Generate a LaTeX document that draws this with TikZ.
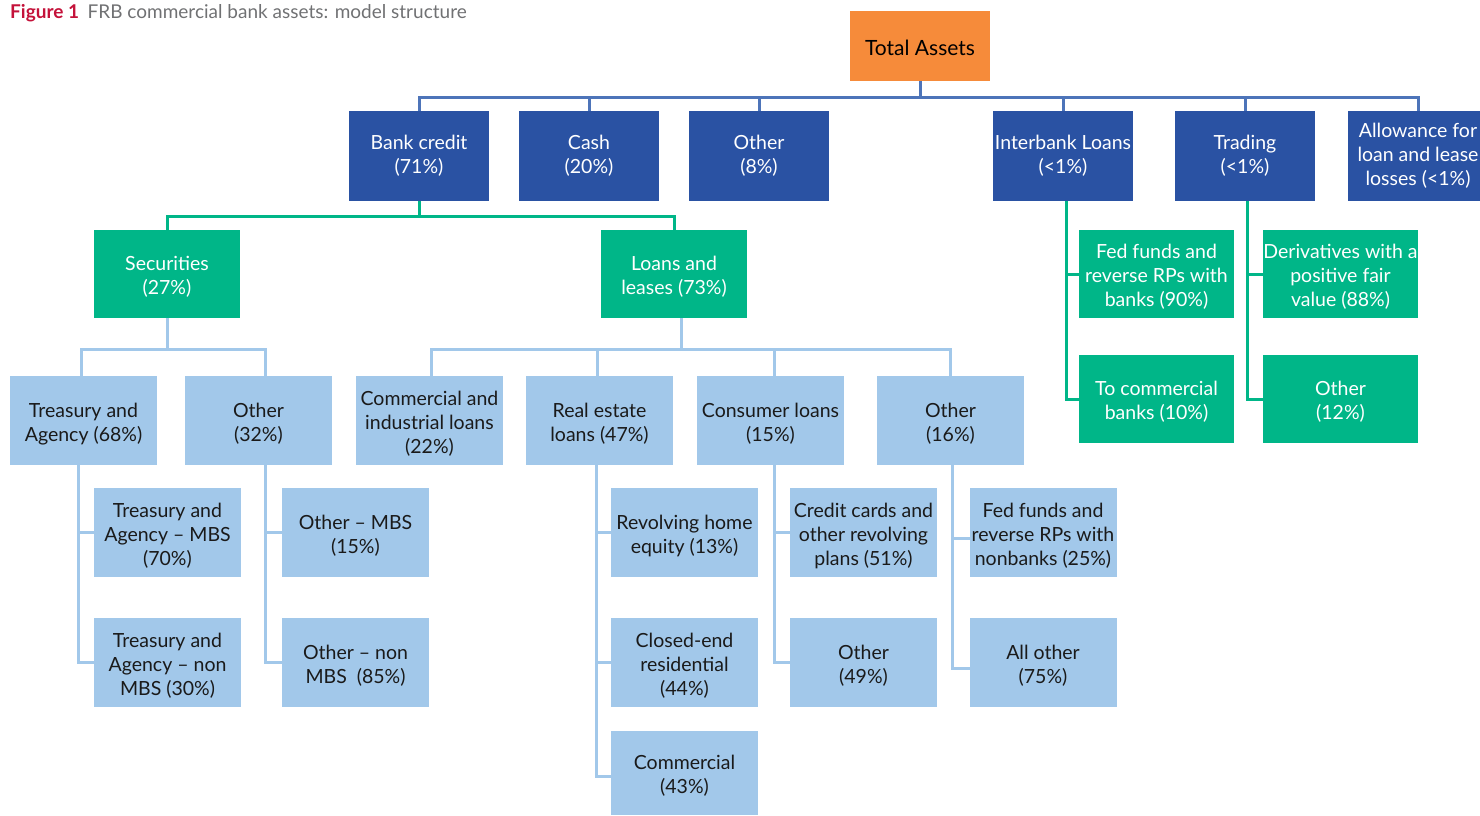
\documentclass[tikz,border=0pt]{standalone}
\usepackage{fontspec}
\setmainfont{Lato}
\definecolor{figred}{HTML}{C4123A}
\definecolor{titlegrey}{HTML}{707173}
\definecolor{topfill}{HTML}{F68B3A}
\definecolor{darkfill}{HTML}{2A52A3}
\definecolor{greenfill}{HTML}{00B688}
\definecolor{lightfill}{HTML}{A2C8EA}
\definecolor{topwire}{HTML}{4D74B9}
\definecolor{inkdark}{HTML}{1A1A1A}
% label set as a one-column table; the first row gets a strut of height
% \labstrut, so a taller strut lowers the label inside its box
\newcommand\labstrut{16.8pt}
\newcommand\lab[1]{\begin{tabular}{@{}c@{}}\rule{0pt}{\labstrut}#1\end{tabular}}
\tikzset{
  box/.style={draw=none, inner sep=0pt, outer sep=0pt,
    minimum width=140pt, minimum height=90pt,
    font=\fontsize{19.5}{24}\selectfont},
  strut/.style={execute at begin node={\renewcommand\labstrut{#1}}},
  rootbox/.style={box, fill=topfill, text=black, minimum height=70pt,
    font=\fontsize{21}{25}\selectfont, strut=25.5pt},
  darkbox/.style={box, fill=darkfill, text=white, strut=18.8pt},
  greenbox/.style={box, fill=greenfill, text=white, minimum width=146pt,
    minimum height=88pt, strut=24.8pt},
  sidebox/.style={box, fill=greenfill, text=white, minimum width=155pt,
    minimum height=88pt, strut=24.8pt},
  lightbox/.style={box, fill=lightfill, text=inkdark, minimum width=147pt,
    minimum height=89pt, strut=24.8pt},
  wire/.style={line width=3pt},
  bluewire/.style={wire, draw=topwire},
  greenwire/.style={wire, draw=greenfill},
  lightwire/.style={wire, draw=lightfill},
}
\begin{document}
\begin{tikzpicture}[x=1pt, y=-1pt]
\useasboundingbox (0,0) rectangle (1480,815);
\clip (0,0) rectangle (1480,815);

% heading
\node[anchor=base west, inner sep=0pt, font=\fontsize{19}{22}\selectfont] (title) at (10,18)
  {\textcolor{figred}{\bfseries Figure 1}\hspace{0.45em}\textcolor{titlegrey}{FRB commercial bank assets: model structure}};

% root
\node[rootbox] (total) at (920,46) {\lab{Total Assets}};

% first level
\node[darkbox] (bank)  at (419,156)  {\lab{Bank credit\\(71\%)}};
\node[darkbox] (cash)  at (589,156)  {\lab{Cash\\(20\%)}};
\node[darkbox] (oth1)  at (759,156)  {\lab{Other\\(8\%)}};
\node[darkbox] (inter) at (1063,156) {\lab{Interbank Loans\\(<1\%)}};
\node[darkbox] (trade) at (1245,156) {\lab{Trading\\(<1\%)}};
\node[darkbox] (allow) at (1418,156) {\lab{Allowance for\\loan and lease\\losses (<1\%)}};

% bank credit split
\node[greenbox] (sec)   at (167,274) {\lab{Securities\\(27\%)}};
\node[greenbox] (loans) at (674,274) {\lab{Loans and\\leases (73\%)}};

% interbank and trading split
\node[sidebox] (fedb)  at (1156.5,274) {\lab{Fed funds and\\reverse RPs with\\banks (90\%)}};
\node[sidebox] (tocb)  at (1156.5,399) {\lab{To commercial\\banks (10\%)}};
\node[sidebox] (deriv) at (1340.5,274) {\lab{Derivatives with a\\positive fair\\value (88\%)}};
\node[sidebox] (toth)  at (1340.5,399) {\lab{Other\\(12\%)}};

% second level
\node[lightbox] (tsy)   at (83.5,420.5)  {\lab{Treasury and\\Agency (68\%)}};
\node[lightbox] (soth)  at (258.5,420.5) {\lab{Other\\(32\%)}};
\node[lightbox] (cni)   at (429.5,420.5) {\lab{Commercial and\\industrial loans\\(22\%)}};
\node[lightbox] (reast) at (599.5,420.5) {\lab{Real estate\\loans (47\%)}};
\node[lightbox] (cons)  at (770.5,420.5) {\lab{Consumer loans\\(15\%)}};
\node[lightbox] (loth)  at (950.5,420.5) {\lab{Other\\(16\%)}};

% third level
\node[lightbox] (tsym)  at (167.5,532.5) {\lab{Treasury and\\Agency – MBS\\(70\%)}};
\node[lightbox] (tsyn)  at (167.5,662.5) {\lab{Treasury and\\Agency – non\\MBS (30\%)}};
\node[lightbox] (sothm) at (355.5,532.5) {\lab{Other – MBS\\(15\%)}};
\node[lightbox] (sothn) at (355.5,662.5) {\lab{Other – non\\MBS\ \ (85\%)}};
\node[lightbox] (rhe)   at (684.5,532.5) {\lab{Revolving home\\equity (13\%)}};
\node[lightbox] (cer)   at (684.5,662.5) {\lab{Closed-end\\residential\\(44\%)}};
\node[lightbox, minimum height=84pt] (comm) at (684.5,773) {\lab{Commercial\\(43\%)}};
\node[lightbox] (ccard) at (863.5,532.5) {\lab{Credit cards and\\other revolving\\plans (51\%)}};
\node[lightbox] (coth)  at (863.5,662.5) {\lab{Other\\(49\%)}};
\node[lightbox] (fednb) at (1043,532.5)  {\lab{Fed funds and\\reverse RPs with\\nonbanks (25\%)}};
\node[lightbox] (allo)  at (1043,662.5)  {\lab{All other\\(75\%)}};

% root bus
\coordinate (tbus) at (920,97);
\draw[bluewire] (total.south) -- (tbus);
\draw[bluewire] (bank.north) |- (tbus -| allow.north) -- (allow.north);
\foreach \n in {cash, oth1, inter, trade}
  \draw[bluewire] (\n.north) -- (\n.north |- tbus);

% bank credit bus
\coordinate (gbus) at (419,216);
\draw[greenwire] (bank.south) -- (gbus);
\draw[greenwire] (sec.north) |- (gbus -| loans.north) -- (loans.north);

% interbank and trading branches
\draw[greenwire] ([xshift=3pt]inter.south) |- (tocb.west);
\draw[greenwire] ([xshift=3pt]inter.south) |- (fedb.west);
\draw[greenwire] ([xshift=2pt]trade.south) |- (toth.west);
\draw[greenwire] ([xshift=2pt]trade.south) |- (deriv.west);

% securities bus
\coordinate (sbus) at (167,349);
\coordinate (tsytop) at ([xshift=-2.5pt]tsy.north);
\coordinate (sothtop) at ([xshift=7pt]soth.north);
\draw[lightwire] (sec.south) -- (sbus);
\draw[lightwire] (tsytop) |- (sbus -| sothtop) -- (sothtop);

% loans bus
\coordinate (lbus) at (681,349);
\coordinate (cnitop) at ([xshift=1.5pt]cni.north);
\coordinate (reasttop) at ([xshift=-2pt]reast.north);
\coordinate (constop) at ([xshift=4pt]cons.north);
\draw[lightwire] ([xshift=7pt]loans.south) -- (lbus);
\draw[lightwire] (cnitop) |- (lbus -| loth.north) -- (loth.north);
\draw[lightwire] (reasttop) -- (reasttop |- lbus);
\draw[lightwire] (constop) -- (constop |- lbus);

% third level branches
\draw[lightwire] ([xshift=-5.5pt]tsy.south) |- (tsyn.west);
\draw[lightwire] ([xshift=-5.5pt]tsy.south) |- (tsym.west);
\draw[lightwire] ([xshift=6.5pt]soth.south) |- (sothn.west);
\draw[lightwire] ([xshift=6.5pt]soth.south) |- (sothm.west);
\draw[lightwire] ([xshift=-3.5pt]reast.south) |- ([yshift=-3pt]comm.west);
\draw[lightwire] ([xshift=-3.5pt]reast.south) |- (cer.west);
\draw[lightwire] ([xshift=-3.5pt]reast.south) |- (rhe.west);
\draw[lightwire] ([xshift=3.5pt]cons.south) |- (coth.west);
\draw[lightwire] ([xshift=3.5pt]cons.south) |- (ccard.west);
\draw[lightwire] ([xshift=1.5pt]loth.south) |- ([yshift=-6pt]allo.west);
\draw[lightwire] ([xshift=1.5pt]loth.south) |- ([yshift=-6pt]fednb.west);
\end{tikzpicture}
\end{document}
